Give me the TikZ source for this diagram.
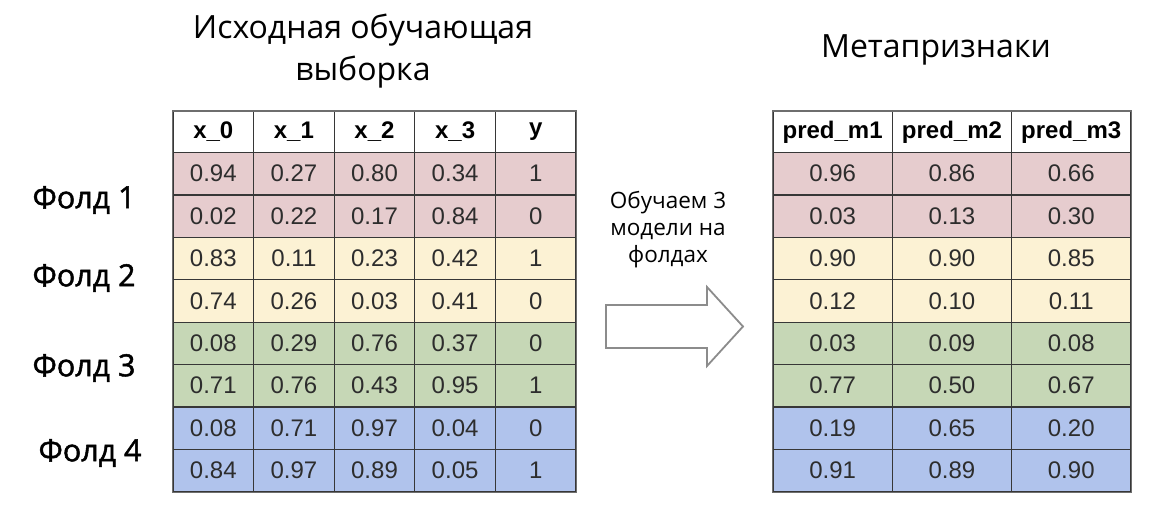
\documentclass[tikz,border=0pt]{standalone}
\usepackage{fontspec}
\setmainfont{Liberation Sans}
\newfontfamily\handfont{Open Sans}
\newfontfamily\handfontheavy[FakeBold=1.6]{Open Sans}
\definecolor{foldA}{RGB}{230,204,206}
\definecolor{foldB}{RGB}{252,242,212}
\definecolor{foldC}{RGB}{198,215,182}
\definecolor{foldD}{RGB}{176,195,236}
\definecolor{gridgray}{RGB}{55,55,55}
\definecolor{outergray}{RGB}{110,110,110}
\definecolor{celltext}{RGB}{45,45,45}
\definecolor{arrowgray}{RGB}{140,140,140}
\begin{document}
\begin{tikzpicture}[x=1pt,y=-1pt,
  cellbase/.style={draw=gridgray, line width=1.2pt, inner sep=0pt, text=celltext,
    font=\fontsize{24}{28}\selectfont},
  lcell/.style={cellbase, minimum width=80.6pt, minimum height=42.4pt},
  rcell/.style={cellbase, minimum width=119.3pt, minimum height=42.4pt},
  lhead/.style={lcell, minimum height=41pt, fill=white, text=black, font=\fontsize{24}{28}\selectfont\bfseries},
  rhead/.style={rcell, minimum height=41pt, fill=white, text=black, font=\fontsize{24}{28}\selectfont\bfseries},
  outerbox/.style={draw=outergray, line width=1.6pt},
  hand/.style={font=\fontsize{32}{42}\selectfont\handfont, text=black, align=center},
  foldlabel/.style={font=\fontsize{30.5}{32}\selectfont\handfontheavy, text=black},
  note/.style={font=\fontsize{22.5}{27}\selectfont\handfont, text=black, align=center},
  bigarrow/.style={draw=arrowgray, line width=1.8pt, fill=white, line join=miter}
]
\useasboundingbox (0,0) rectangle (1173,522);

% titles
\node[hand] (titleL) at (363,51) {Исходная обучающая\\выборка};
\node[hand] (titleR) at (936,50) {Метапризнаки};

% left table header
\foreach \h [count=\c from 0] in {x\_0,x\_1,x\_2,x\_3,y}
  \node[lhead] (L-0-\c) at ({173+80.6*(\c+0.5)},132) {\h};

% left table body
\foreach \r/\fc/\vals in {
  1/foldA/{0.94,0.27,0.80,0.34,1},
  2/foldA/{0.02,0.22,0.17,0.84,0},
  3/foldB/{0.83,0.11,0.23,0.42,1},
  4/foldB/{0.74,0.26,0.03,0.41,0},
  5/foldC/{0.08,0.29,0.76,0.37,0},
  6/foldC/{0.71,0.76,0.43,0.95,1},
  7/foldD/{0.08,0.71,0.97,0.04,0},
  8/foldD/{0.84,0.97,0.89,0.05,1}}
  \foreach \v [count=\c from 0] in \vals
    \node[lcell, fill=\fc] (L-\r-\c) at ({173+80.6*(\c+0.5)},{152.5+42.4*(\r-0.5)}) {\v};

% right table header
\foreach \h [count=\c from 0] in {pred\_m1,pred\_m2,pred\_m3}
  \node[rhead] (R-0-\c) at ({773+119.3*(\c+0.5)},132) {\h};

% right table body
\foreach \r/\fc/\vals in {
  1/foldA/{0.96,0.86,0.66},
  2/foldA/{0.03,0.13,0.30},
  3/foldB/{0.90,0.90,0.85},
  4/foldB/{0.12,0.10,0.11},
  5/foldC/{0.03,0.09,0.08},
  6/foldC/{0.77,0.50,0.67},
  7/foldD/{0.19,0.65,0.20},
  8/foldD/{0.91,0.89,0.90}}
  \foreach \v [count=\c from 0] in \vals
    \node[rcell, fill=\fc] (R-\r-\c) at ({773+119.3*(\c+0.5)},{152.5+42.4*(\r-0.5)}) {\v};

% outer borders
\draw[outerbox] (L-0-0.north west) rectangle (L-8-4.south east);
\draw[outerbox] (R-0-0.north west) rectangle (R-8-2.south east);

% fold labels
\node[foldlabel] (f1) at (84,200) {Фолд 1};
\node[foldlabel] (f2) at (84,278) {Фолд 2};
\node[foldlabel] (f3) at (84,368) {Фолд 3};
\node[foldlabel] (f4) at (90,453) {Фолд 4};

% arrow and its text
\node[note] (arrownote) at (668,230) {Обучаем 3\\модели на\\фолдах};
\draw[bigarrow] (606,305) -- (707,305) -- (707,287) -- (743,326.5) -- (707,366)
  -- (707,348) -- (606,348) -- cycle;
\end{tikzpicture}
\end{document}
